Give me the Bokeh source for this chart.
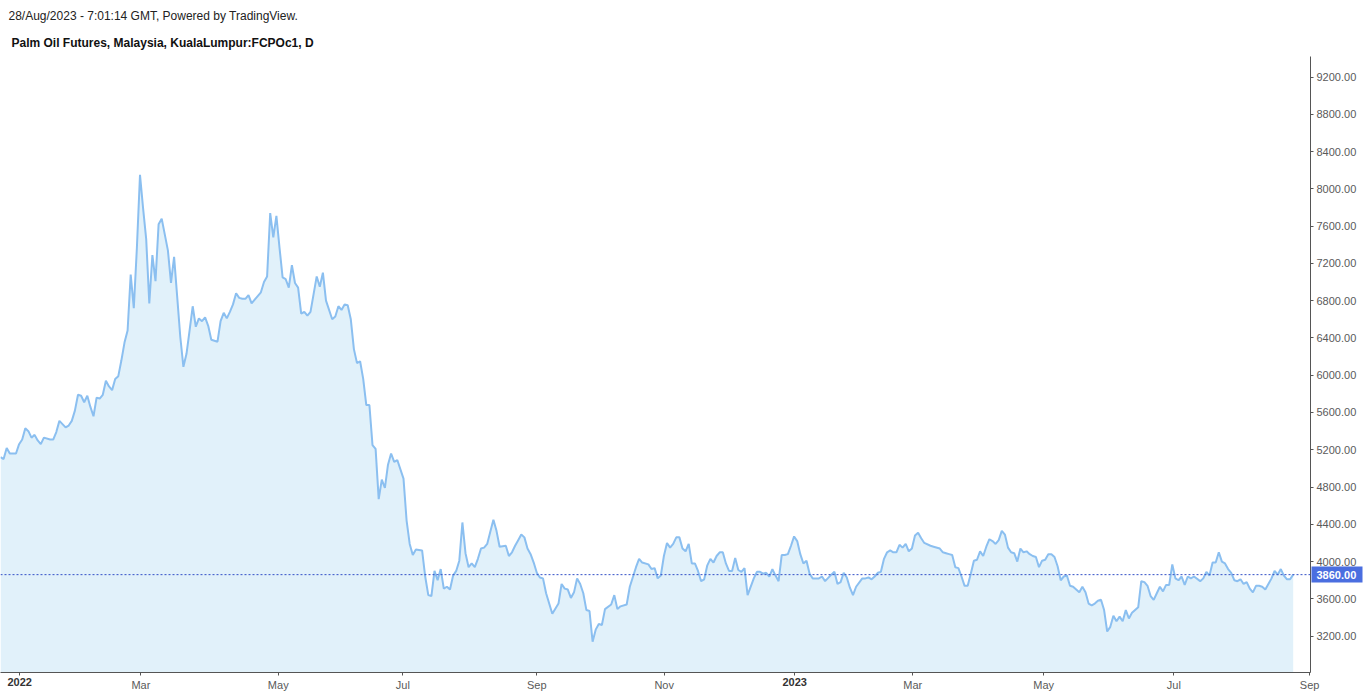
from bokeh.plotting import figure
from bokeh.models import (Range1d, FixedTicker, NumeralTickFormatter, Span, Title,
                          LinearAxis, ColumnDataSource)
from bokeh.embed import file_html
from bokeh.resources import INLINE

# ---------------- data (session number on the chart, daily close) ----------------
t = [0, 1, 2, 3, 4, 5, 6, 7, 8, 9, 10, 11, 12, 13, 14, 16, 17, 18, 19, 21, 22, 23, 24, 25,
     26, 27, 28, 29, 30, 31, 32, 33, 34, 35, 36, 37, 38, 39, 40, 41, 42, 43, 44, 45, 46, 47,
     48, 49, 50, 51, 52, 54, 55, 56, 57, 58, 59, 60, 61, 62, 63, 64, 65, 66, 67, 68, 69, 70,
     71, 72, 73, 74, 75, 76, 77, 78, 79, 80, 81, 82, 84, 85, 86, 87, 88, 89, 90, 91, 92, 93,
     94, 95, 96, 97, 98, 99, 100, 101, 102, 103, 104, 105, 107, 108, 109, 110, 111, 112, 113,
     114, 115, 116, 117, 118, 119, 120, 121, 122,
     123, 124, 125, 126, 127, 128, 130, 131, 132, 133, 134, 136, 137, 138, 139, 140, 141, 142,
     143, 144, 145, 146, 147, 148, 149, 150, 151, 152, 153, 154, 155, 156, 157, 158, 159, 160,
     161, 163, 164, 165, 166, 167, 168, 169, 170, 171, 172, 173, 174, 175, 176, 178, 180, 181,
     182, 183, 184, 185, 186, 187, 188, 189, 190, 191, 192, 193, 194, 195, 197, 198, 199, 200,
     202, 203, 205, 206, 207, 209, 210, 211, 212, 213, 214, 215, 216, 217, 218, 219, 220, 221,
     222, 223, 224, 225, 226, 227, 228, 229, 230, 231, 232, 233, 234, 235, 236, 237, 238, 239,
     240, 241,
     243, 244, 245, 246, 247, 248, 249, 250, 251, 252, 253, 254, 255, 256, 257, 258, 259, 260,
     261, 262, 263, 264, 265, 266, 268, 269, 270, 271, 272, 273, 274, 275, 276, 278, 279, 280,
     281, 282, 283, 284, 285, 286, 287, 288, 289, 290, 291, 292, 293, 294, 295, 296, 297, 298,
     300, 301, 303, 304, 305, 306, 307, 308, 309, 310, 311, 312, 313, 314, 315, 316, 317, 318,
     319, 320, 321, 322, 323, 324, 325, 326, 327, 328, 329, 330, 331, 332, 333, 334, 335, 336,
     337, 338, 339, 340, 341, 342, 343, 344, 345, 346, 348, 349, 350, 351, 352, 353, 354, 355,
     356, 357, 358, 359, 360, 361, 362, 363, 364, 365, 367, 368, 369, 370, 371, 372, 373, 374,
     375, 376, 377, 378, 379, 380, 381, 382, 383, 384, 385, 387, 388, 389, 390, 391, 392, 393,
     394, 395, 396, 397, 398, 399, 400, 401, 402, 403, 404, 405, 406, 407, 408, 409, 410, 411,
     412, 413, 414, 415, 416, 417]

close = [5120, 5100, 5220, 5160, 5160, 5160, 5260, 5310, 5430, 5400, 5330, 5360, 5300, 5260,
         5330, 5310, 5310, 5390, 5510, 5440, 5460, 5510, 5620, 5790, 5780, 5710, 5780, 5660,
         5560, 5760, 5750, 5790, 5940, 5880, 5840, 5960, 5990, 6160, 6350, 6480, 7080, 6720,
         7370, 8150, 7790, 7460, 6770, 7290, 7010, 7620, 7680, 7340, 6990, 7270, 6840, 6410,
         6090, 6230, 6480, 6740, 6520, 6610, 6580, 6620, 6530, 6380, 6370, 6360, 6580, 6670,
         6610, 6680, 6760, 6880, 6830, 6820, 6820, 6860, 6770, 6810, 6890, 7000, 7060, 7740,
         7480, 7710, 7370, 7050, 7030, 6940, 7180, 6990, 6940, 6660, 6680, 6640, 6680, 6870,
         7060, 6950, 7100, 6800, 6600, 6630, 6740, 6700, 6760, 6750, 6600, 6280, 6130, 6150,
         5960, 5680, 5680, 5250, 5210, 4670,
         4880, 4790, 5040, 5160, 5070, 5090, 4890, 4440, 4190, 4070, 4130, 4120, 3840, 3640,
         3630, 3900, 3800, 3920, 3710, 3730, 3700, 3850, 3900, 4010, 4420, 4090, 3940, 3980,
         3940, 4030, 4140, 4150, 4190, 4320, 4450, 4330, 4160, 4170, 4060, 4100, 4170, 4230,
         4290, 4260, 4140, 4080, 3990, 3880, 3830, 3820, 3660, 3440, 3550, 3760, 3710, 3700,
         3610, 3670, 3820, 3760, 3660, 3480, 3470, 3140, 3270, 3330, 3320, 3490, 3540, 3640,
         3490, 3520, 3540, 3730, 3940, 4030, 3990, 3970, 3920, 3930, 3820, 3850, 4060, 4200,
         4150, 4190, 4260, 4260, 4140, 4110, 4190, 3980, 3980, 3900, 3790, 3810, 3960, 4030,
         3990, 4060, 4100, 4100, 3980, 3900, 3900, 4040, 3910, 3890, 3930, 3640,
         3820, 3890, 3890, 3870, 3880, 3840, 3920, 3850, 3790, 4070, 4070, 4080, 4170, 4270,
         4220, 4080, 3980, 4010, 3870, 3820, 3820, 3820, 3840, 3790, 3860, 3890, 3760, 3780,
         3880, 3830, 3720, 3640, 3730, 3820, 3820, 3830, 3810, 3840, 3880, 3890, 4030, 4100,
         4120, 4100, 4100, 4180, 4150, 4190, 4110, 4140, 4280, 4310, 4250, 4200, 4170, 4160,
         4140, 4100, 4090, 4080, 4070, 3940, 3930, 3840, 3740, 3740, 3870, 4010, 4020, 4110,
         4060, 4160, 4240, 4220, 4190, 4230, 4330, 4290, 4150, 4100, 4090, 4000, 4140, 4100,
         4110, 4080, 4060, 4050, 3940, 4010, 4020, 4080, 4080, 4050, 3950, 3800, 3840, 3850,
         3740, 3730, 3670, 3730, 3670, 3550, 3530, 3550, 3580, 3590, 3480, 3250, 3300, 3420,
         3360, 3410, 3360, 3480, 3390, 3450, 3510, 3790, 3780, 3740, 3630, 3590, 3660, 3730,
         3680, 3750, 3750, 3970, 3820, 3800, 3840, 3750, 3840, 3820, 3840, 3790, 3820, 3890,
         3850, 3990, 3990, 4100, 4000, 3980, 3920, 3880, 3800, 3790, 3810, 3760, 3780, 3710,
         3670, 3740, 3740, 3730, 3700, 3760, 3820, 3900, 3860, 3920, 3850, 3810, 3810, 3860]

price_ticks = [3200, 3600, 4000, 4400, 4800, 5200, 5600, 6000, 6400, 6800, 7200, 7600,
               8000, 8400, 8800, 9200]
date_tick_pos = [6.2, 45.3, 89.6, 129.8, 173.0, 214.1, 256.2, 294.3, 336.5, 378.5, 422.3]
date_tick_labels = ["2022", "Mar", "May", "Jul", "Sep", "Nov", "2023", "Mar", "May", "Jul", "Sep"]
year_labels = {"2022", "2023"}
last_price = close[-1]
header_line = "28/Aug/2023 - 7:01:14 GMT, Powered by TradingView."
title_line = "Palm Oil Futures, Malaysia, KualaLumpur:FCPOc1, D"

# ---------------- styling / layout ----------------
FONT = "Liberation Sans"
LINE_COLOR = "#8bbff0"
FILL_COLOR = "#e1f1fa"
AXIS_COLOR = "#555555"
LABEL_COLOR = "#5a5a5a"
TAG_COLOR = "#4a6ee0"

W, H = 1366, 694
FRAME_RIGHT, FRAME_TOP, FRAME_BOTTOM = 1310, 56, 672
X_START, X_END = 0, FRAME_RIGHT / 3.1
Y_START, Y_END = 2810, 9420

p = figure(width=W, height=H, output_backend="svg", toolbar_location=None,
           title=None, y_axis_location="right",
           x_range=Range1d(X_START, X_END), y_range=Range1d(Y_START, Y_END),
           min_border_left=0, min_border_right=W - FRAME_RIGHT,
           min_border_top=FRAME_TOP, min_border_bottom=H - FRAME_BOTTOM)
p.background_fill_color = "white"
p.border_fill_color = "white"
p.outline_line_color = None
p.xgrid.visible = False
p.ygrid.visible = False

# titles (first added sits nearest to the frame)
p.add_layout(Title(text=title_line, align="left", offset=11, standoff=13,
                   text_font=FONT, text_font_size="12px", text_font_style="bold",
                   text_color="#111111"), "above")
p.add_layout(Title(text=header_line, align="left", offset=8, standoff=9,
                   text_font=FONT, text_font_size="12px", text_font_style="normal",
                   text_color="#222222"), "above")

src = ColumnDataSource(dict(t=t, close=close, base=[Y_START] * len(t)))
p.varea(x="t", y1="base", y2="close", source=src, fill_color=FILL_COLOR)
p.line(x="t", y="close", source=src, line_color=LINE_COLOR, line_width=2)

p.add_layout(Span(location=last_price, dimension="width", line_color="#3350c8",
                  line_dash="2 2", line_width=1))

# y axis (right)
ya = p.yaxis[0]
ya.ticker = FixedTicker(ticks=price_ticks)
ya.formatter = NumeralTickFormatter(format="0.00")
ya.axis_line_color = AXIS_COLOR
ya.major_tick_line_color = AXIS_COLOR
ya.major_tick_in = 0
ya.major_tick_out = 3
ya.minor_tick_line_color = None
ya.major_label_standoff = 3
ya.major_label_text_font = FONT
ya.major_label_text_font_size = "11px"
ya.major_label_text_color = LABEL_COLOR

# last price tag: a second right axis whose single fat tick reaches back to the frame
tag = LinearAxis(ticker=FixedTicker(ticks=[last_price]),
                 formatter=NumeralTickFormatter(format="0.00"))
tag.axis_line_color = None
tag.minor_tick_line_color = None
tag.major_tick_in = 48
tag.major_tick_out = 3
tag.major_tick_line_width = 16
tag.major_tick_line_color = TAG_COLOR
tag.major_label_standoff = -46
tag.major_label_text_font = FONT
tag.major_label_text_font_size = "11px"
tag.major_label_text_font_style = "bold"
tag.major_label_text_color = "white"
p.add_layout(tag, "right")

# x axis
xa = p.xaxis[0]
xa.ticker = FixedTicker(ticks=date_tick_pos)
xa.major_label_overrides = {pos: ("" if lab in year_labels else lab)
                            for pos, lab in zip(date_tick_pos, date_tick_labels)}
xa.axis_line_color = AXIS_COLOR
xa.major_tick_line_color = AXIS_COLOR
xa.major_tick_in = 0
xa.major_tick_out = 3
xa.minor_tick_line_color = None
xa.major_label_standoff = 3
xa.major_label_text_font = FONT
xa.major_label_text_font_size = "11px"
xa.major_label_text_color = LABEL_COLOR

# bold year labels: a second bottom axis lifted onto the first one's label row
year_pos = [pos for pos, lab in zip(date_tick_pos, date_tick_labels) if lab in year_labels]
yr = LinearAxis(ticker=FixedTicker(ticks=year_pos))
yr.major_label_overrides = {pos: lab for pos, lab in zip(date_tick_pos, date_tick_labels)
                            if lab in year_labels}
yr.axis_line_color = None
yr.major_tick_line_color = None
yr.minor_tick_line_color = None
yr.major_tick_in = 0
yr.major_tick_out = 0
yr.major_label_standoff = -16
yr.major_label_text_font = FONT
yr.major_label_text_font_size = "11px"
yr.major_label_text_font_style = "bold"
yr.major_label_text_color = "#333333"
p.add_layout(yr, "below")

open("out.html", "w").write(file_html(p, INLINE))
